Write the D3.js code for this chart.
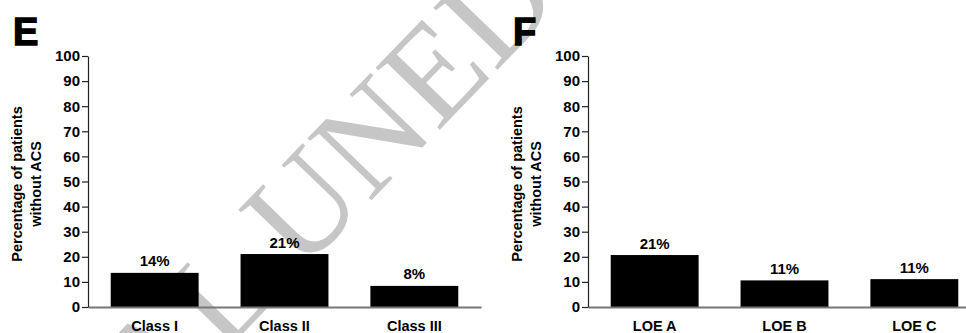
<!DOCTYPE html>
<html>
<head>
<meta charset="utf-8">
<script src="https://cdn.jsdelivr.net/npm/d3@7"></script>
<style>
  body { margin: 0; background: #fff; }
  svg { display: block; font-family: "Liberation Sans", Arial, sans-serif; }
</style>
</head>
<body>
<svg id="chart" width="966" height="333"></svg>
<script>
// valeurs
const panelLetters = ["E", "F"];
const classCats = ["Class I", "Class II", "Class III"];
const classValues = [13.6, 21.1, 8.4];
const classLabels = ["14%", "21%", "8%"];
const loeCats = ["LOE A", "LOE B", "LOE C"];
const loeValues = [20.7, 10.6, 11.1];
const loeLabels = ["21%", "11%", "11%"];
const yTicks = [0, 10, 20, 30, 40, 50, 60, 70, 80, 90, 100];
const yTitle = ["Percentage of patients", "without ACS"];
const watermark = "ORIGINAL UNEDITED MANUSCRIPT";

const svg = d3.select("#chart");

// filigrane en fond : centre de "UNED" placé sur un point cible
const wmSize = 136, wmFont = "Liberation Serif, Times New Roman, serif";
function measure(s) {
    const t = svg.append("text").attr("font-family", wmFont).attr("font-size", wmSize).text(s);
    const l = t.node().getComputedTextLength();
    t.remove();
    return l;
}
const preLen = measure("ORIGINAL") + 0.25 * wmSize;
const unedLen = measure("UNED");
svg.append("text")
    .attr("transform", "translate(403,103) rotate(-46)")
    .attr("x", -(preLen + unedLen / 2))
    .attr("y", 0.33 * wmSize)
    .attr("font-family", wmFont)
    .attr("font-size", wmSize)
    .attr("fill", "#c6c6c6")
    .text(watermark);

const y = d3.scaleLinear().domain([0, 100]).range([307, 56]);

function drawPanel(ox, letter, cats, values, labels) {
    const g = svg.append("g").attr("transform", "translate(" + ox + ",0)");

    const x = d3.scaleBand()
        .domain(cats)
        .range([88, 481])
        .paddingInner(0.323)
        .paddingOuter(0.175);

    g.append("text")
        .attr("x", 13).attr("y", 45)
        .attr("font-size", 38).attr("font-weight", "bold")
        .attr("stroke", "#000").attr("stroke-width", 1.4)
        .text(letter);

    // titre de l'axe y
    const t = g.append("text")
        .attr("transform", "translate(22,184) rotate(-90)")
        .attr("text-anchor", "middle")
        .attr("font-size", 14.5).attr("font-weight", "bold");
    t.append("tspan").attr("x", 0).attr("y", 0).text(yTitle[0]);
    t.append("tspan").attr("x", 0).attr("y", 19).text(yTitle[1]);

    // barres
    g.selectAll("rect.bar")
        .data(values)
        .enter().append("rect")
        .attr("class", "bar")
        .attr("x", (d, i) => x(cats[i]))
        .attr("width", x.bandwidth())
        .attr("y", d => y(d))
        .attr("height", d => y(0) - y(d))
        .attr("fill", "#000");

    g.selectAll("text.val")
        .data(values)
        .enter().append("text")
        .attr("class", "val")
        .attr("x", (d, i) => x(cats[i]) + x.bandwidth() / 2)
        .attr("y", d => y(d) - 6.5)
        .attr("text-anchor", "middle")
        .attr("font-size", 15).attr("font-weight", "bold")
        .text((d, i) => labels[i]);

    // axe x
    const ax = g.append("g")
        .attr("transform", "translate(0," + y(0) + ")")
        .call(d3.axisBottom(x).tickSize(0).tickSizeOuter(0));
    ax.select(".domain").attr("stroke", "#777").attr("stroke-width", 2);
    ax.selectAll("text")
        .attr("y", 24).attr("dy", 0)
        .attr("fill", "#000")
        .attr("font-family", "Liberation Sans, Arial, sans-serif")
        .attr("font-size", 14.5).attr("font-weight", "bold");

    // axe y
    const ay = g.append("g")
        .attr("transform", "translate(88,0)")
        .call(d3.axisLeft(y).tickValues(yTicks).tickSize(6).tickSizeOuter(0).tickPadding(2));
    ay.select(".domain").attr("stroke", "#222").attr("stroke-width", 1.2);
    ay.selectAll(".tick line").attr("stroke", "#222").attr("stroke-width", 1.2);
    ay.selectAll("text")
        .attr("fill", "#000")
        .attr("font-family", "Liberation Sans, Arial, sans-serif")
        .attr("font-size", 15).attr("font-weight", "bold");
}

drawPanel(0, panelLetters[0], classCats, classValues, classLabels);
drawPanel(500, panelLetters[1], loeCats, loeValues, loeLabels);
</script>
</body>
</html>
